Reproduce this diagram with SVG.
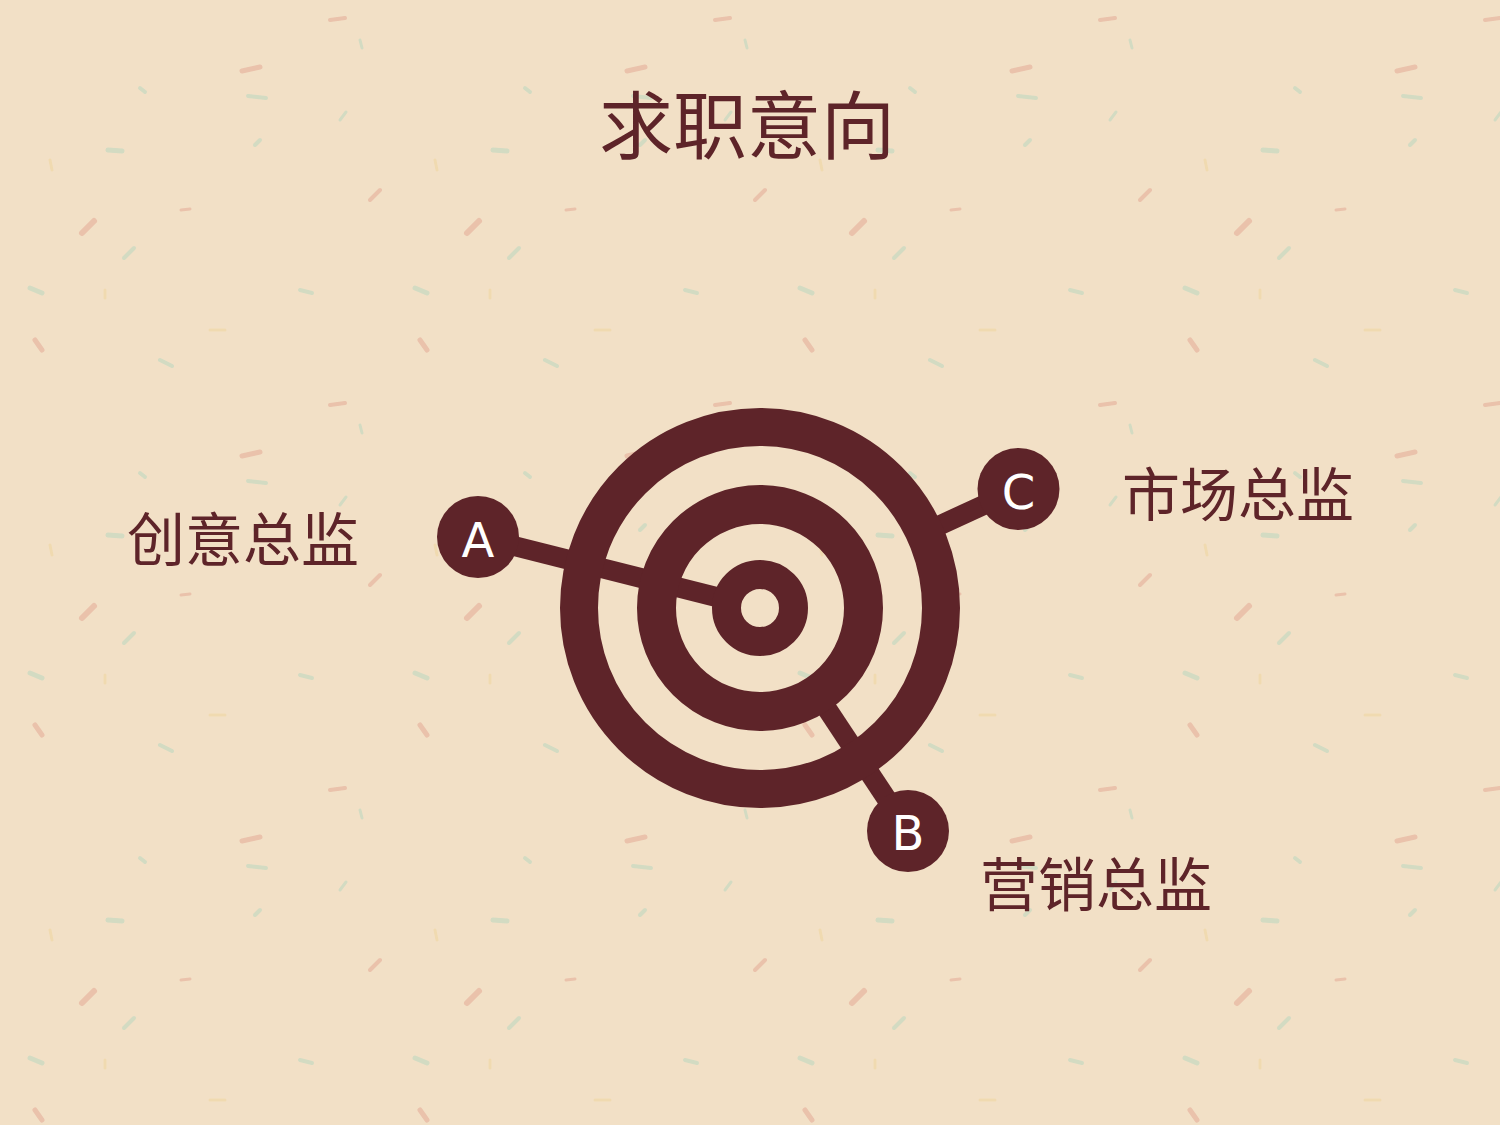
<svg xmlns="http://www.w3.org/2000/svg" width="1500" height="1125" viewBox="0 0 1500 1125">
  <defs>
    <style>
      .ring { fill: none; stroke: #5E2429; }
      .link { stroke: #5E2429; stroke-width: 20; stroke-linecap: butt; }
      .dot { fill: #5E2429; }
      .letter { fill: #FFFFFF; font-family: "DejaVu Sans", "Liberation Sans", sans-serif; font-size: 48px; text-anchor: middle; }
      .label { fill: #5E2429; font-family: "Noto Sans CJK SC", "Noto Sans", sans-serif; font-size: 58px; }
      .title { fill: #5E2429; font-family: "Noto Sans CJK SC", "Noto Sans", sans-serif; font-size: 74px; text-anchor: middle; }
    </style>
    <pattern id="confetti" x="0" y="0" width="385" height="385" patternUnits="userSpaceOnUse">
      <g stroke-linecap="round" opacity="0.55">
        <line x1="242" y1="71" x2="260" y2="67" stroke="#E3A995" stroke-width="5"/>
        <line x1="248" y1="96" x2="266" y2="98" stroke="#B9D7C0" stroke-width="4"/>
        <line x1="140" y1="88" x2="145" y2="92" stroke="#B9D7C0" stroke-width="4"/>
        <line x1="108" y1="150" x2="122" y2="151" stroke="#B9D7C0" stroke-width="5"/>
        <line x1="255" y1="145" x2="260" y2="140" stroke="#B9D7C0" stroke-width="4"/>
        <line x1="82" y1="233" x2="94" y2="221" stroke="#E3A995" stroke-width="6"/>
        <line x1="124" y1="258" x2="134" y2="248" stroke="#B9D7C0" stroke-width="4"/>
        <line x1="181" y1="210" x2="190" y2="209" stroke="#E3A995" stroke-width="3"/>
        <line x1="30" y1="288" x2="42" y2="293" stroke="#B9D7C0" stroke-width="5"/>
        <line x1="105" y1="290" x2="105" y2="298" stroke="#EFD59E" stroke-width="3"/>
        <line x1="330" y1="20" x2="345" y2="18" stroke="#E3A995" stroke-width="4"/>
        <line x1="360" y1="40" x2="362" y2="48" stroke="#B9D7C0" stroke-width="3"/>
        <line x1="300" y1="290" x2="312" y2="293" stroke="#B9D7C0" stroke-width="4"/>
        <line x1="35" y1="340" x2="42" y2="350" stroke="#E3A995" stroke-width="5"/>
        <line x1="210" y1="330" x2="225" y2="330" stroke="#EFD59E" stroke-width="3"/>
        <line x1="160" y1="360" x2="172" y2="366" stroke="#B9D7C0" stroke-width="4"/>
        <line x1="370" y1="200" x2="380" y2="190" stroke="#E3A995" stroke-width="4"/>
        <line x1="50" y1="160" x2="52" y2="170" stroke="#EFD59E" stroke-width="3"/>
        <line x1="340" y1="120" x2="346" y2="112" stroke="#B9D7C0" stroke-width="3"/>
      </g>
    </pattern>
  </defs>

  <rect x="0" y="0" width="1500" height="1125" fill="#F2E0C6"/>
  <rect x="0" y="0" width="1500" height="1125" fill="url(#confetti)"/>

  <g id="title">
    <text class="title" x="747" y="153">求职意向</text>
  </g>

  <g id="connectors">
    <line class="link" x1="478" y1="537" x2="716.4" y2="597"/>
    <line class="link" x1="1018.5" y1="489" x2="937.1" y2="526.5"/>
    <line class="link" x1="908" y1="831" x2="825.3" y2="706.3"/>
  </g>

  <g id="target">
    <circle class="ring" cx="760" cy="608" r="181" stroke-width="38"/>
    <circle class="ring" cx="760" cy="608" r="103.5" stroke-width="39"/>
    <circle class="ring" cx="760" cy="608" r="33.5" stroke-width="29"/>
  </g>

  <g id="node-a">
    <circle class="dot" cx="478" cy="537" r="41"/>
    <text class="letter" x="478" y="557">A</text>
  </g>
  <g id="node-b">
    <circle class="dot" cx="908" cy="831" r="41"/>
    <text class="letter" x="908" y="850">B</text>
  </g>
  <g id="node-c">
    <circle class="dot" cx="1018.5" cy="489" r="41"/>
    <text class="letter" x="1018.5" y="509">C</text>
  </g>

  <g id="label-a">
    <text class="label" x="127" y="561">创意总监</text>
  </g>
  <g id="label-b">
    <text class="label" x="980" y="906">营销总监</text>
  </g>
  <g id="label-c">
    <text class="label" x="1122" y="516">市场总监</text>
  </g>
</svg>
